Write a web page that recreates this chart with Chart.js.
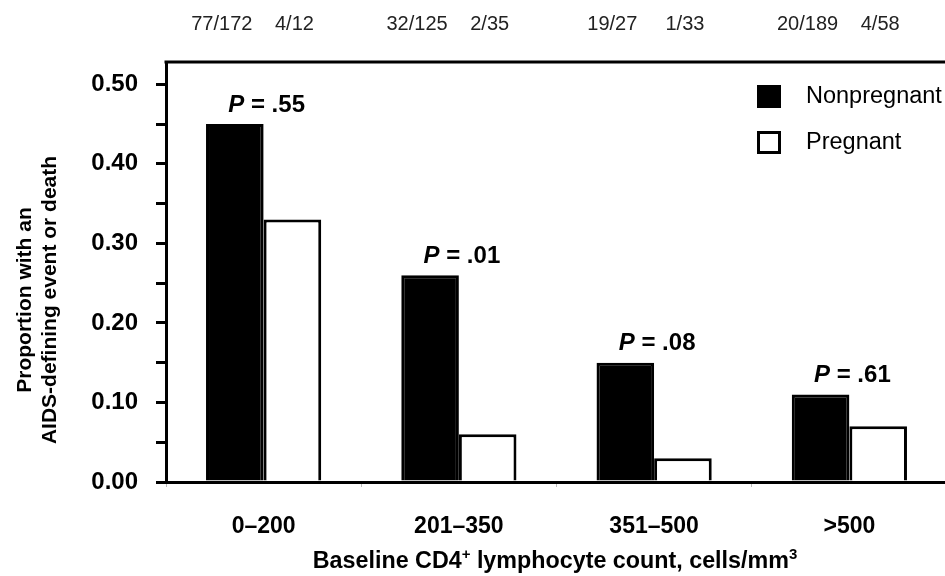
<!DOCTYPE html>
<html>
<head>
<meta charset="utf-8">
<script src="https://cdn.jsdelivr.net/npm/chart.js@4.4.1/dist/chart.umd.min.js"></script>
<style>
  html, body { margin: 0; padding: 0; background: #fff; overflow: hidden; }
  canvas { display: block; }
</style>
</head>
<body>
<canvas id="chart" width="950" height="576"></canvas>
<script>
// data
let categories = ['0\u2013200', '201\u2013350', '351\u2013500', '>500'];
let nonpregnant = [0.45, 0.26, 0.15, 0.11];
let pregnant = [0.33, 0.06, 0.03, 0.07];
let nonpregCounts = ['77/172', '32/125', '19/27', '20/189'];
let pregCounts = ['4/12', '2/35', '1/33', '4/58'];
let pValues = ['.55', '.01', '.08', '.61'];

const FONT = '"Liberation Sans", Arial, sans-serif';

// draws the things chart.js can't: frame top, count labels, P values, legend, axis titles
const extras = {
    id: 'extras',
    afterDraw(chart) {
        const ctx = chart.ctx;
        const area = chart.chartArea;
        const blackBars = chart.getDatasetMeta(0).data;
        const whiteBars = chart.getDatasetMeta(1).data;
        ctx.save();

        // top line of the frame
        ctx.strokeStyle = '#000';
        ctx.lineWidth = 3;
        ctx.beginPath();
        ctx.moveTo(area.left - 1.5, area.top);
        ctx.lineTo(chart.width, area.top);
        ctx.stroke();

        // n/N counts above the frame
        ctx.fillStyle = '#222';
        ctx.font = '20px ' + FONT;
        ctx.textAlign = 'center';
        ctx.textBaseline = 'middle';
        for (let i = 0; i < categories.length; i++) {
            ctx.fillText(nonpregCounts[i], blackBars[i].x - 13, 24);
            ctx.fillText(pregCounts[i], whiteBars[i].x + 2, 24);
        }

        // P values above each group
        ctx.fillStyle = '#000';
        for (let i = 0; i < categories.length; i++) {
            let cx = (blackBars[i].x + whiteBars[i].x) / 2 + 3;
            let y = blackBars[i].y - 19;
            ctx.font = 'italic bold 24px ' + FONT;
            let wP = ctx.measureText('P').width;
            ctx.font = 'bold 24px ' + FONT;
            let rest = ' = ' + pValues[i];
            let wR = ctx.measureText(rest).width;
            let x0 = cx - (wP + wR) / 2;
            ctx.textAlign = 'left';
            ctx.font = 'italic bold 24px ' + FONT;
            ctx.fillText('P', x0, y);
            ctx.font = 'bold 24px ' + FONT;
            ctx.fillText(rest, x0 + wP, y);
        }

        // legend
        const ds = chart.data.datasets;
        ctx.font = '23.5px ' + FONT;
        ctx.textAlign = 'left';
        for (let i = 0; i < ds.length; i++) {
            let y = 85 + i * 46;
            ctx.fillStyle = ds[i].backgroundColor;
            ctx.fillRect(757, y, 24, 23);
            ctx.lineWidth = 3;
            ctx.strokeStyle = '#000';
            ctx.strokeRect(758.5, y + 1.5, 21, 20);
            ctx.fillStyle = '#000';
            ctx.fillText(ds[i].label, 806, y + 12);
        }

        // y axis title (two lines)
        ctx.save();
        ctx.translate(37, 300);
        ctx.rotate(-Math.PI / 2);
        ctx.font = 'bold 21px ' + FONT;
        ctx.textAlign = 'center';
        ctx.fillText('Proportion with an', 0, -12);
        ctx.fillText('AIDS-defining event or death', 0, 13);
        ctx.restore();

        // x axis title with superscripts
        const parts = [
            ['Baseline CD4', false],
            ['+', true],
            [' lymphocyte count, cells/mm', false],
            ['3', true]
        ];
        let total = 0;
        parts.forEach(p => {
            ctx.font = (p[1] ? 'bold 15px ' : 'bold 23.3px ') + FONT;
            total += ctx.measureText(p[0]).width;
        });
        let x = 555 - total / 2;
        ctx.textAlign = 'left';
        ctx.textBaseline = 'alphabetic';
        parts.forEach(p => {
            ctx.font = (p[1] ? 'bold 15px ' : 'bold 23.3px ') + FONT;
            ctx.fillText(p[0], x, p[1] ? 559 : 568);
            x += ctx.measureText(p[0]).width;
        });

        ctx.restore();
    }
};

new Chart(document.getElementById('chart'), {
    type: 'bar',
    data: {
        labels: categories,
        datasets: [
            {
                label: 'Nonpregnant',
                data: nonpregnant,
                backgroundColor: '#000',
                borderColor: '#000',
                borderWidth: 3,
                categoryPercentage: 0.59,
                barPercentage: 1.0
            },
            {
                label: 'Pregnant',
                data: pregnant,
                backgroundColor: '#fff',
                borderColor: '#000',
                borderWidth: 3,
                categoryPercentage: 0.59,
                barPercentage: 1.0
            }
        ]
    },
    options: {
        responsive: false,
        animation: false,
        devicePixelRatio: 1,
        layout: { padding: { top: 62, right: 3, left: 0, bottom: 0 } },
        plugins: {
            legend: { display: false },
            tooltip: { enabled: false }
        },
        scales: {
            x: {
                grid: {
                    offset: true,
                    drawOnChartArea: false,
                    tickLength: 5,
                    color: '#bbb',
                    lineWidth: 1
                },
                border: { color: '#000', width: 3 },
                ticks: {
                    color: '#000',
                    font: { family: FONT, size: 23, weight: 'bold' },
                    padding: 26
                },
                afterFit: s => { s.height = 94; }
            },
            y: {
                min: 0,
                max: 0.528,
                grid: {
                    drawOnChartArea: false,
                    tickLength: 10,
                    color: '#000',
                    lineWidth: 3
                },
                border: { color: '#000', width: 3 },
                ticks: {
                    color: '#000',
                    padding: 18,
                    font: { family: FONT, size: 24, weight: 'bold' },
                    callback: v => (Math.round(v * 100) % 10 === 0 ? v.toFixed(2) : '')
                },
                afterBuildTicks: s => {
                    // major ticks every 0.10, minor ones at 0.05
                    let t = [];
                    for (let i = 0; i <= 10; i++) t.push({ value: i * 0.05 });
                    s.ticks = t;
                },
                afterFit: s => { s.width = 166; }
            }
        }
    },
    plugins: [extras]
});
</script>
</body>
</html>
